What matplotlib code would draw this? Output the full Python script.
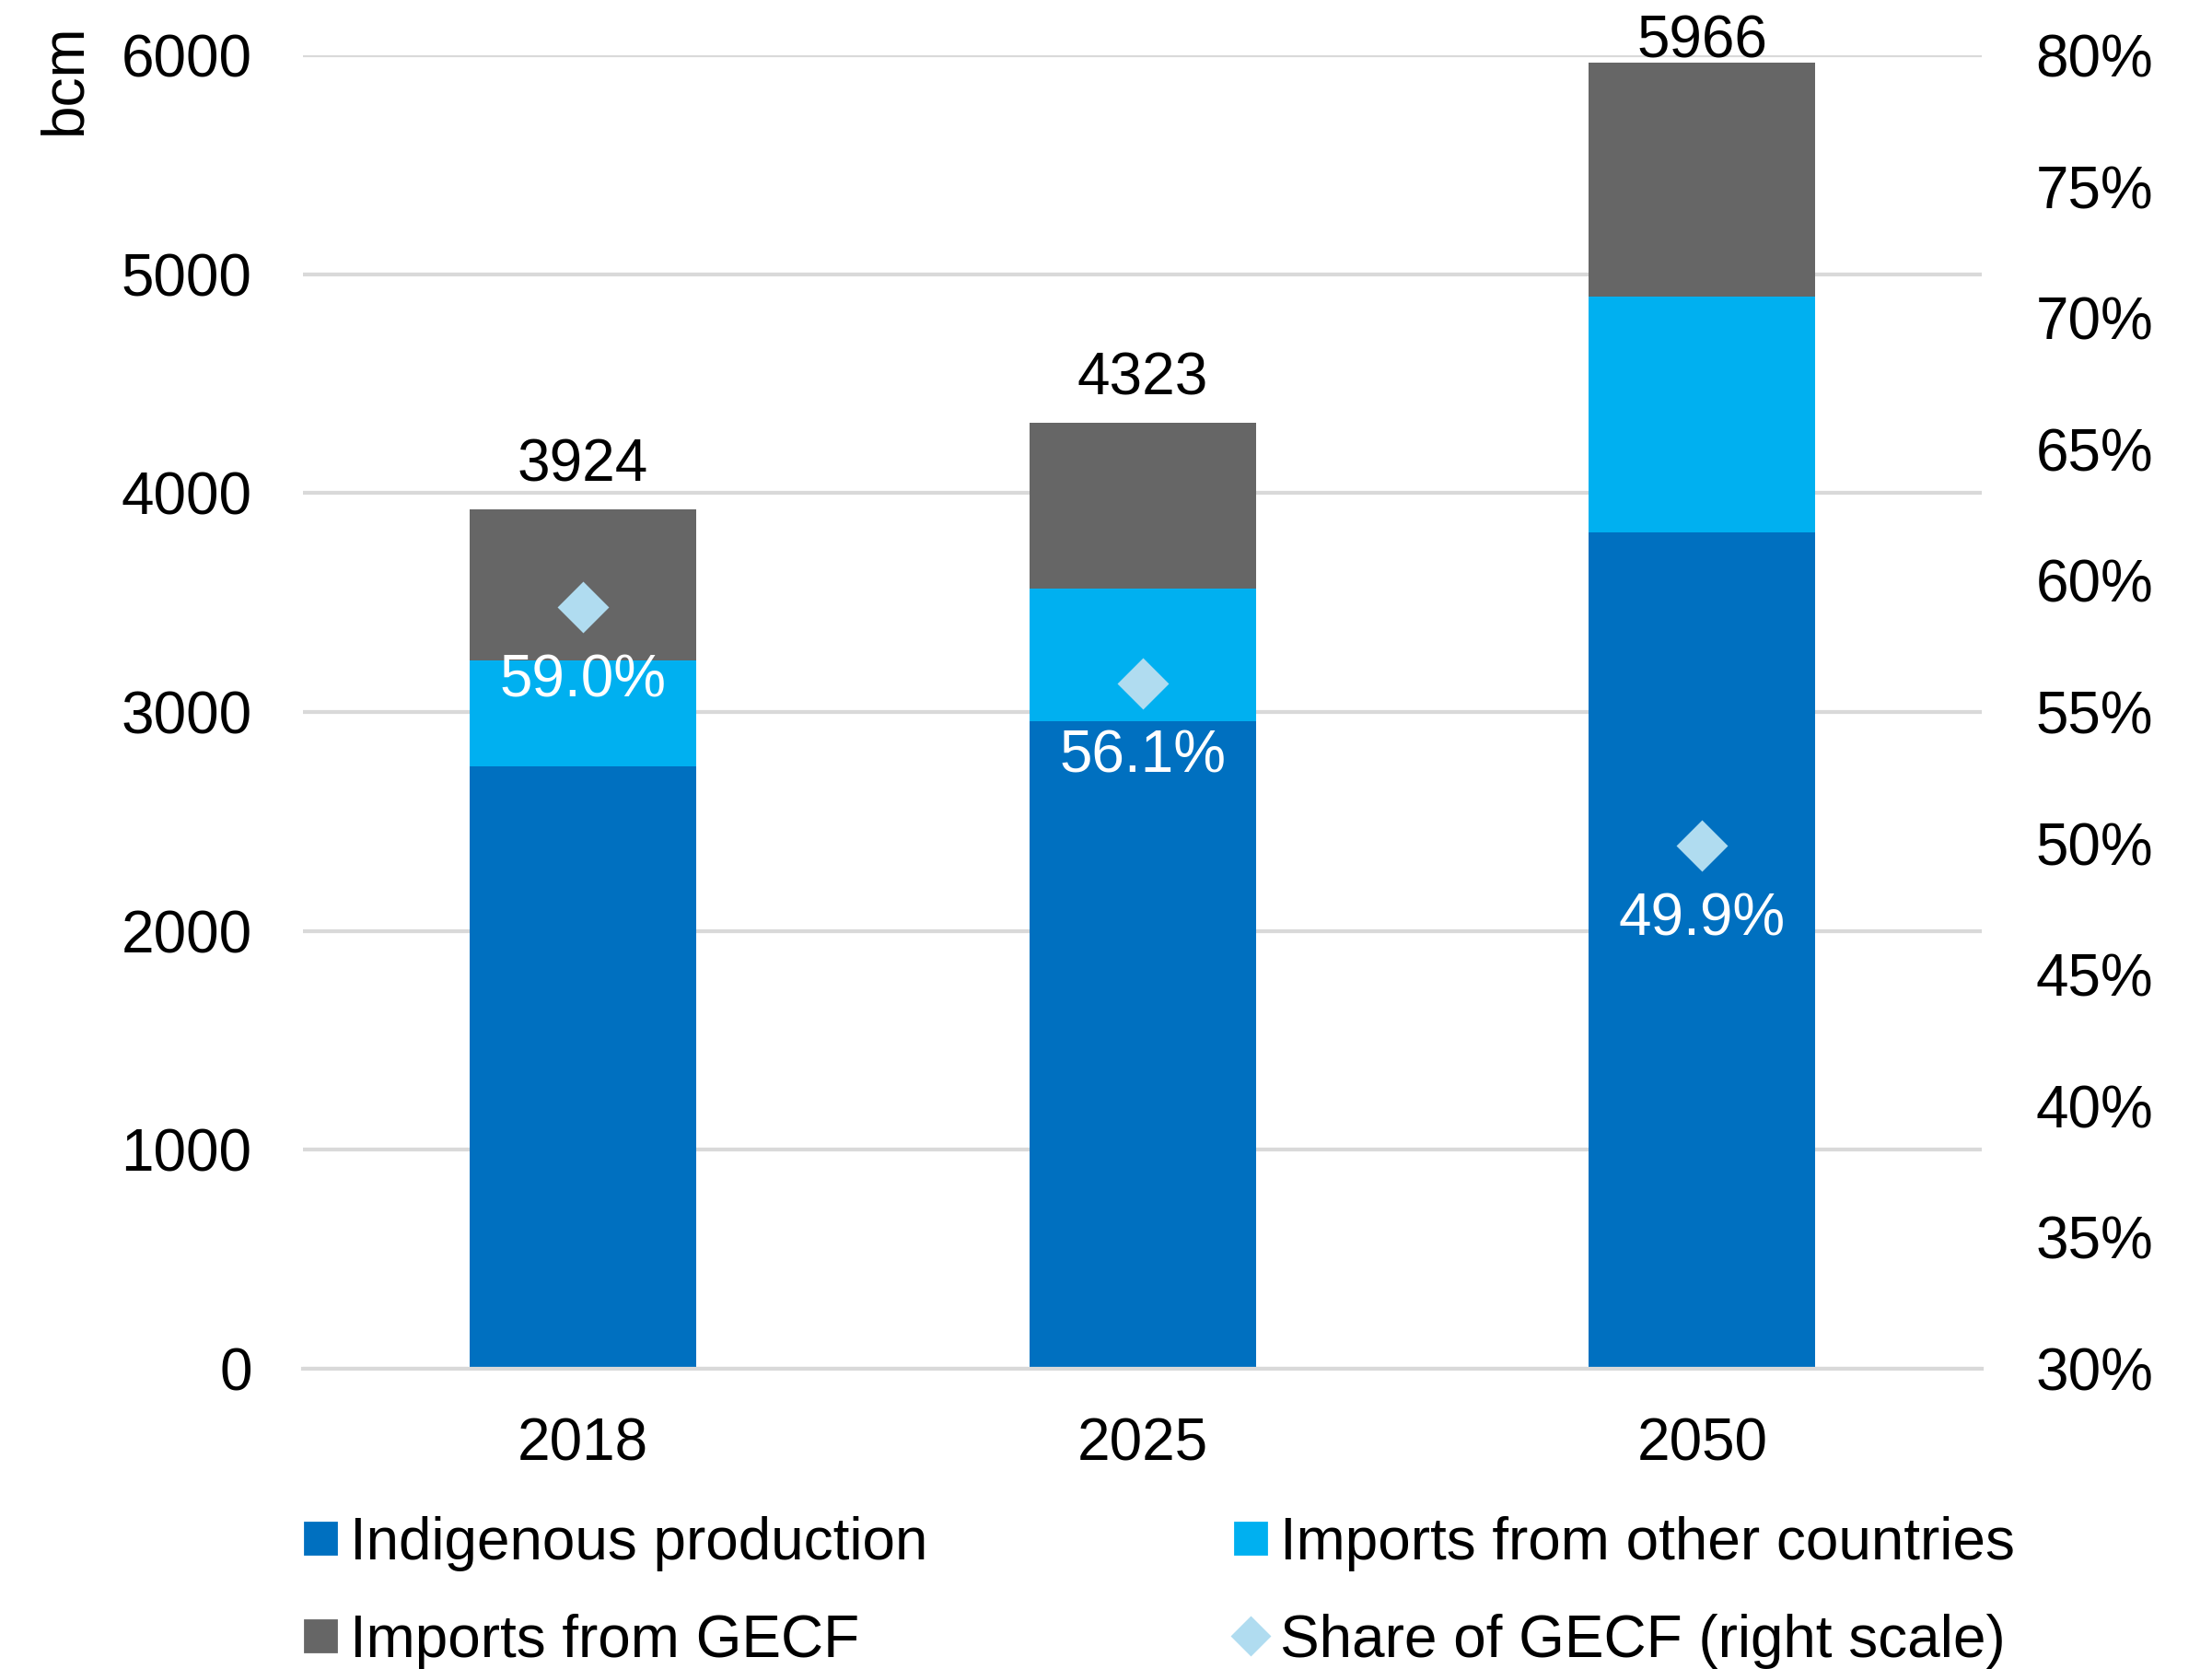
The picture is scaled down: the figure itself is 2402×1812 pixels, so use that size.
import numpy as np
import matplotlib.pyplot as plt
from matplotlib.lines import Line2D

plt.rcParams['font.family'] = ['Liberation Sans', 'DejaVu Sans']

# data (bcm)
years = ['2018', '2025', '2050']
indigenous = [2753, 2957, 3822]
imports_other = [484, 605, 1077]
imports_gecf = [687, 761, 1067]
totals = [3924, 4323, 5966]
share_gecf = [59.0, 56.1, 49.9]

c_ind = '#0070C0'
c_oth = '#00B0F0'
c_gecf = '#666666'
c_share = '#B0DCF0'
fs = 23

fig = plt.figure(figsize=(12.01, 9.06), dpi=200)
ax = fig.add_axes([0.137, 0.1799, 0.759, 0.7870])
ax2 = ax.twinx()

x = np.arange(len(years))
w = 0.405
ind = np.array(indigenous)
oth = np.array(imports_other)
gec = np.array(imports_gecf)

ax.bar(x, ind, w, color=c_ind, zorder=2)
ax.bar(x, oth, w, bottom=ind, color=c_oth, zorder=2)
ax.bar(x, gec, w, bottom=ind + oth, color=c_gecf, zorder=2)

# total labels above the bars (last one squeezed under the top edge)
top_pad = [11, 11, 2]
for i, t in enumerate(totals):
    ax.annotate(str(t), (x[i], ind[i] + oth[i] + gec[i]), xytext=(0, top_pad[i]),
                textcoords='offset points', ha='center', va='baseline',
                fontsize=fs, color='black', annotation_clip=False)

ax.set_ylim(0, 6000)
ax.set_xlim(-0.5, 2.5)
ax.set_yticks(range(0, 6001, 1000))
ax.set_xticks(x)
ax.set_xticklabels(years)
ax.yaxis.grid(True, color='#D9D9D9', linewidth=1.5, zorder=0)
ax.set_axisbelow(True)
for s in ['top', 'right', 'left']:
    ax.spines[s].set_visible(False)
ax.spines['bottom'].set_color('#D9D9D9')
ax.spines['bottom'].set_linewidth(1.5)
ax.tick_params(axis='both', length=0, labelsize=fs)
ax.tick_params(axis='y', pad=20)
ax.tick_params(axis='x', pad=19)

# share on right axis
ax2.plot(x, share_gecf, linestyle='none', marker='D', markersize=13,
         color=c_share, zorder=3)
for i, v in enumerate(share_gecf):
    ax2.annotate(f'{v:.1f}%', (x[i], v), xytext=(0, -35), textcoords='offset points',
                 ha='center', va='baseline', fontsize=fs, color='white')
ax2.set_ylim(30, 80)
ax2.set_yticks(range(30, 81, 5))
ax2.set_yticklabels([f'{t}%' for t in range(30, 81, 5)])
for s in ax2.spines.values():
    s.set_visible(False)
ax2.tick_params(axis='y', length=0, labelsize=fs, pad=21)

fig.text(70 / 2402, 1 - 25 / 1812, 'bcm', rotation=90, ha='center', va='top', fontsize=fs)

handles = [
    Line2D([], [], linestyle='none', marker='s', markersize=12, color=c_ind),
    Line2D([], [], linestyle='none', marker='s', markersize=12, color=c_gecf),
    Line2D([], [], linestyle='none', marker='s', markersize=12, color=c_oth),
    Line2D([], [], linestyle='none', marker='D', markersize=10, color=c_share),
]
labels = ['Indigenous production', 'Imports from GECF',
          'Imports from other countries', 'Share of GECF (right scale)']
fig.legend(handles, labels, ncol=2, loc='center left', bbox_to_anchor=(0.1357, 0.046),
           frameon=False, fontsize=fs, borderpad=0, borderaxespad=0,
           handlelength=0.7, handletextpad=0.15, columnspacing=5.13, labelspacing=0.72)

fig.savefig('out.png', dpi=200)
